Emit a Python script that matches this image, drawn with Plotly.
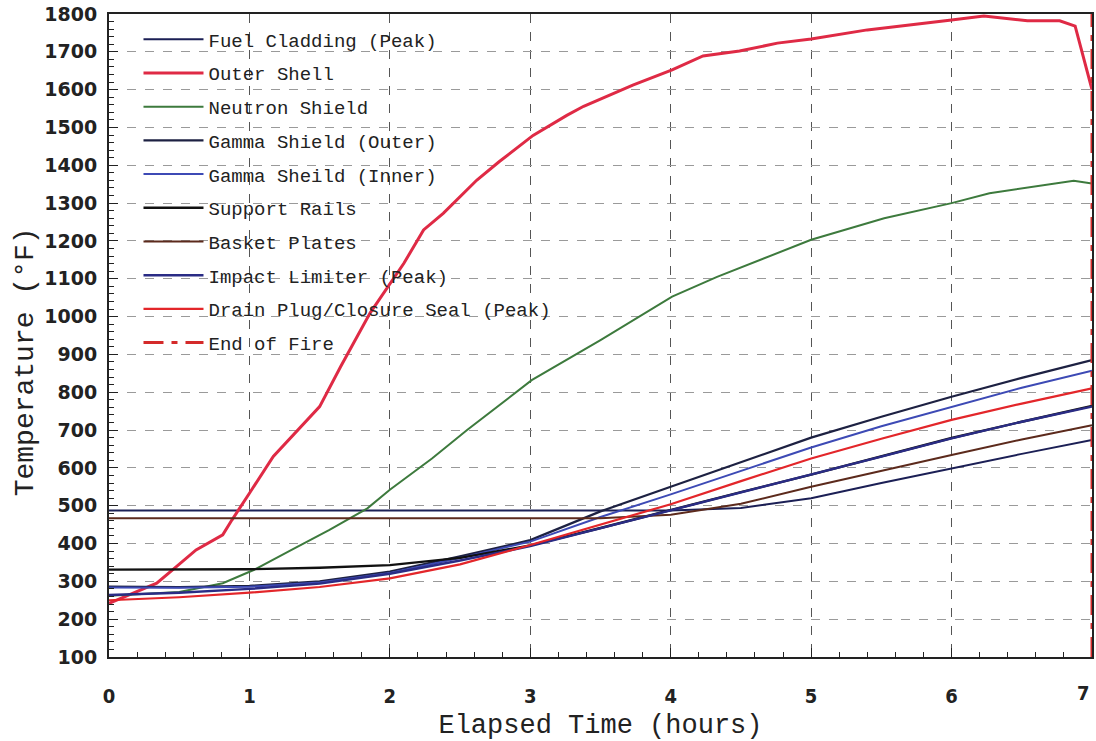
import plotly.graph_objects as go

# ---- data ----
t_outer = [0, 0.34, 0.48, 0.62, 0.81, 0.875, 1.0, 1.17, 1.5, 1.65, 1.86, 2.1, 2.24, 2.38, 2.62,
           2.78, 3.02, 3.26, 3.38, 3.73, 4.01, 4.23, 4.49, 4.76, 5.0, 5.4, 6.0, 6.23, 6.54, 6.77, 6.88, 7.0]
outer_shell = [242, 295, 339, 383, 423, 462, 533, 630, 762, 868, 1010, 1141, 1229, 1273, 1361,
               1410, 1479, 1532, 1556, 1612, 1652, 1689, 1702, 1723, 1734, 1758, 1784, 1795, 1782, 1782, 1768, 1600]

t_neutron = [0, 0.5, 0.81, 1.03, 1.3, 1.57, 1.84, 2.0, 2.3, 2.55, 3.01, 3.5, 4.01, 4.33, 5.0, 5.52, 6.0, 6.27, 6.87, 7.0]
neutron_shield = [262, 272, 295, 330, 383, 436, 493, 542, 625, 700, 832, 938, 1053, 1105, 1203, 1260, 1300, 1326, 1359, 1352]

t = [0, 0.5, 1, 1.5, 2, 2.5, 3, 3.5, 4, 4.5, 5, 5.5, 6, 6.5, 7]
fuel_cladding = [487, 487, 487, 487, 487, 487, 487, 487, 487, 494, 520, 560, 599, 637, 674]
gamma_outer = [286, 285, 288, 300, 326, 366, 409, 485, 550, 615, 680, 735, 788, 838, 885]
gamma_inner = [284, 283, 286, 297, 322, 362, 405, 470, 530, 592, 654, 710, 762, 812, 857]
support_rails = [331, 331, 332, 336, 343, 362, 395, 441, 489, 536, 582, 630, 679, 722, 764]
basket_plates = [467, 467, 467, 467, 467, 467, 467, 467, 476, 505, 550, 593, 634, 675, 713]
impact_limiter = [264, 270, 280, 294, 320, 355, 393, 440, 489, 535, 581, 630, 678, 722, 762]
drain_plug = [250, 258, 270, 285, 308, 345, 396, 450, 504, 565, 625, 677, 727, 770, 810]

end_fire_t = [7, 7]
end_fire_y = [100, 1800]

x_ticks = [0, 1, 2, 3, 4, 5, 6, 7]
x_ticktext = ["0", "1", "2", "3", "4", "5", "6", ""]   # last label placed as annotation so it stays inside the page
y_ticks = list(range(100, 1801, 100))

# ---- figure ----
series = [
    ("Fuel Cladding (Peak)", t, fuel_cladding, "#1b1f55", 2, "solid"),
    ("Outer Shell", t_outer, outer_shell, "#df2a45", 3, "solid"),
    ("Neutron Shield", t_neutron, neutron_shield, "#3d7a3d", 2, "solid"),
    ("Gamma Shield (Outer)", t, gamma_outer, "#1d2142", 2.2, "solid"),
    ("Gamma Sheild (Inner)", t, gamma_inner, "#3d4ab5", 2, "solid"),
    ("Support Rails", t, support_rails, "#111111", 2.4, "solid"),
    ("Basket Plates", t, basket_plates, "#5c2a1c", 2, "solid"),
    ("Impact Limiter (Peak)", t, impact_limiter, "#2a2c85", 2.4, "solid"),
    ("Drain Plug/Closure Seal (Peak)", t, drain_plug, "#e3262a", 2.2, "solid"),
    ("End of Fire", end_fire_t, end_fire_y, "#d42a2a", 3, "20px,8px,6px,8px"),
]

fig = go.Figure()
for i, (name, xs, ys, col, w, dash) in enumerate(series):
    fig.add_trace(go.Scatter(x=xs, y=ys, mode="lines", name=name,
                             legendgroup=f"g{i}",
                             line=dict(color=col, width=w, dash=dash)))

mono = "Liberation Mono, Courier New, monospace"
tickfont_x = dict(family="DejaVu Sans Condensed, DejaVu Sans", size=20, color="#222", weight="bold")

# white panel behind the legend: hides the grid there but stays under the curves
fig.add_shape(type="rect", xref="paper", yref="paper",
              x0=0.002, x1=0.474, y0=0.449, y1=0.997,
              fillcolor="white", line=dict(width=0), layer="between")

fig.add_annotation(text="Temperature (\u00b0F)", xref="paper", yref="paper",
                   x=-0.085, y=0.459, xanchor="center", yanchor="middle",
                   textangle=-90, showarrow=False,
                   font=dict(family=mono, size=28, color="#222"))

fig.add_annotation(text=str(x_ticks[-1]), xref="x", yref="paper",
                   x=x_ticks[-1], y=0, xanchor="right", yanchor="middle",
                   yshift=-36, showarrow=False, font=tickfont_x)

fig.update_layout(
    width=1096, height=741,
    margin=dict(l=109, r=4, t=14, b=84, autoexpand=False),
    paper_bgcolor="white", plot_bgcolor="white",
    showlegend=True,
    legend=dict(x=0.03, y=0.99, xanchor="left", yanchor="top",
                bgcolor="rgba(0,0,0,0)", borderwidth=0,
                font=dict(family=mono, size=19, color="#222222"),
                traceorder="grouped", tracegroupgap=6,
                itemwidth=60),
    xaxis=dict(
        range=[0, 7], tickvals=x_ticks, ticktext=x_ticktext,
        ticks="inside", ticklen=9, tickcolor="#222", tickwidth=1,
        minor=dict(dtick=0.2, ticks="inside", ticklen=5, tickcolor="#222", showgrid=False),
        showline=True, linecolor="#222", linewidth=2, mirror=True,
        showgrid=True, gridcolor="#555", gridwidth=1, griddash="dash",
        zeroline=False, automargin=False,
        tickfont=tickfont_x,
        ticklabelstandoff=20,
        title=dict(text="Elapsed Time (hours)", font=dict(family=mono, size=27, color="#222"), standoff=10),
    ),
    yaxis=dict(
        range=[100, 1800], tickvals=y_ticks, ticktext=[str(v) for v in y_ticks],
        ticks="inside", ticklen=9, tickcolor="#222", tickwidth=1,
        minor=dict(dtick=20, ticks="inside", ticklen=5, tickcolor="#222", showgrid=False),
        showline=True, linecolor="#222", linewidth=2, mirror=True,
        showgrid=True, gridcolor="#9a9a9a", gridwidth=1, griddash="dash",
        zeroline=False, automargin=False,
        tickfont=dict(family="DejaVu Sans", size=19, color="#222", weight="bold"),
        ticklabelstandoff=6,
    ),
)

fig.write_html("out.html")
